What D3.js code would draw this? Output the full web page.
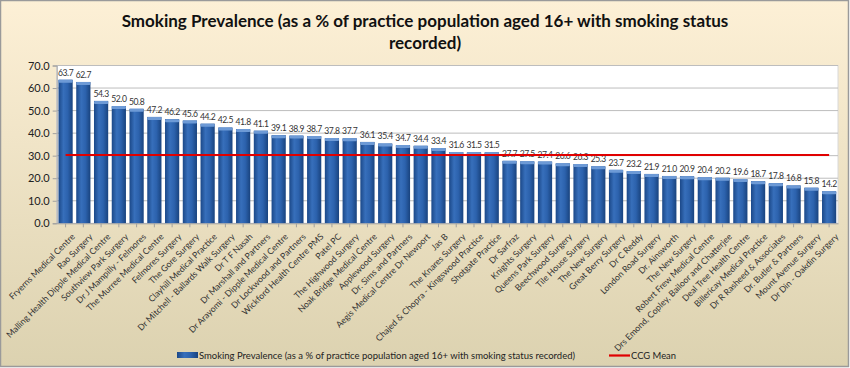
<!DOCTYPE html>
<html><head><meta charset="utf-8">
<script src="https://cdn.jsdelivr.net/npm/d3@7"></script>
<style>
html,body{margin:0;padding:0;background:#fff;}
svg{display:block;font-family:Lato,"Open Sans",sans-serif;}
</style></head>
<body>
<svg id="chart" width="850" height="368"></svg>
<script>
const categories = ["Fryerns Medical Centre","Rao Surgery","Malling Health Dipple Medical Centre","Southview Park Surgery","Dr J Mampilly - Felmores","The Murree Medical Centre","Felmores Surgery","The Gore Surgery","Clayhill Medical Practice","Dr Mitchell - Ballards Walk Surgery","Dr T F Nasah","Dr Marshall and Partners","Dr Arayomi - Dipple Medical Centre","Dr Lockwood and Partners","Wickford Health Centre PMS","Patel PC","The Highwood Surgery","Noak Bridge Medical Centre","Applewood Surgery","Dr. Sims and Partners","Aegis Medical Centre Dr Newport","Jas B","The Knares Surgery","Chajed & Chopra - Kingswood Practice","Shotgate Practice","Dr Sarfraz","Knights Surgery","Queens Park Surgery","Beechwood Surgery","Tile House Surgery","The New Surgery","Great Berry Surgery","Dr C Reddy","London Road Surgery","Dr. Ainsworth","The New Surgery","Robert Frew Medical Centre","Drs Emond, Copley, Bailoor and Chatterjee","Deal Tree Health Centre","Billericay Medical Practice","Dr R Rasheed & Associates","Dr. Butler & Partners","Mount Avenue Surgery","Dr Din - Oakdin Surgery"];
const prevalence = [63.7,62.7,54.3,52.0,50.8,47.2,46.2,45.6,44.2,42.5,41.8,41.1,39.1,38.9,38.7,37.8,37.7,36.1,35.4,34.7,34.4,33.4,31.6,31.5,31.5,27.7,27.5,27.4,26.6,26.3,25.3,23.7,23.2,21.9,21.0,20.9,20.4,20.2,19.6,18.7,17.8,16.8,15.8,14.2];
const ccgMean = 30.3;
const yTicks = [0,10,20,30,40,50,60,70];
const titleLines = ["Smoking Prevalence (as a % of practice population aged 16+ with smoking status","recorded)"];
const seriesName = "Smoking Prevalence (as a % of practice population aged 16+ with smoking status recorded)";
const meanName = "CCG Mean";

const svg = d3.select("#chart");
const W = 850, H = 368;
const defs = svg.append("defs");
const bg = defs.append("linearGradient").attr("id","bg").attr("x1",0).attr("y1",0).attr("x2",0).attr("y2",1);
bg.append("stop").attr("offset","0%").attr("stop-color","#fdf0d6");
bg.append("stop").attr("offset","100%").attr("stop-color","#dcd2b0");
const bar = defs.append("linearGradient").attr("id","bar").attr("x1",0).attr("y1",0).attr("x2",1).attr("y2",0);
bar.append("stop").attr("offset","0%").attr("stop-color","#1b4888");
bar.append("stop").attr("offset","35%").attr("stop-color","#376fbb");
bar.append("stop").attr("offset","65%").attr("stop-color","#2c62ad");
bar.append("stop").attr("offset","100%").attr("stop-color","#19437e");

svg.append("rect").attr("x",0.5).attr("y",0.5).attr("width",W-2).attr("height",H-2)
  .attr("fill","url(#bg)").attr("stroke","#9a9a9a").attr("stroke-width",1.5);

const x = d3.scaleBand().domain(d3.range(categories.length)).range([56.7,838]).paddingInner(0.2).paddingOuter(0.1);
const y = d3.scaleLinear().domain([0,70]).range([223.3,65.5]);

svg.append("rect").attr("x",56.7).attr("y",65.5).attr("width",838-56.7).attr("height",223.3-65.5)
  .attr("fill","#ffffff").attr("stroke","#d8d8d8");

svg.append("g").selectAll("line").data(yTicks.filter(d=>d>0)).join("line")
  .attr("x1",56.7).attr("x2",838).attr("y1",d=>y(d)).attr("y2",d=>y(d))
  .attr("stroke","#bdbdbd").attr("stroke-width",1);

const yAxis = svg.append("g").attr("transform","translate(56.7,0)")
  .call(d3.axisLeft(y).tickValues(yTicks).tickFormat(d3.format(".1f")).tickSize(4).tickPadding(3));
yAxis.select(".domain").attr("stroke","#a0a0a0");
yAxis.selectAll(".tick line").attr("stroke","#a0a0a0");
yAxis.selectAll("text").attr("font-size",11).attr("fill","#222").attr("font-family","Lato,sans-serif");

const bars = svg.append("g").selectAll("g").data(prevalence).join("g");
bars.append("rect").attr("x",(d,i)=>x(i)).attr("y",d=>y(d)).attr("width",x.bandwidth())
  .attr("height",d=>y(0)-y(d)).attr("fill","url(#bar)");
bars.append("rect").attr("x",(d,i)=>x(i)).attr("y",d=>y(d)).attr("width",x.bandwidth())
  .attr("height",3).attr("fill","#6d9ad6").attr("rx",1);
bars.append("text").attr("x",(d,i)=>x(i)+x.bandwidth()/2).attr("y",d=>y(d)-4)
  .attr("text-anchor","middle").attr("font-size",8.6).attr("letter-spacing",-0.45).attr("fill","#333")
  .text(d=>d3.format(".1f")(d));

const xAxis = svg.append("g").attr("transform","translate(0,223.3)")
  .call(d3.axisBottom(x).tickFormat(i=>categories[i]).tickSize(4).tickSizeOuter(0));
xAxis.select(".domain").attr("stroke","#a0a0a0");
xAxis.selectAll(".tick line").attr("stroke","#a0a0a0");
xAxis.selectAll("text").attr("font-size",8.7).attr("fill","#333").attr("font-family","Lato,sans-serif")
  .attr("text-anchor","end").attr("dx",0).attr("dy",0)
  .attr("transform","translate(5,9) rotate(-45)");

svg.append("line").attr("x1",x(0)+x.bandwidth()/2).attr("x2",x(categories.length-1)+x.bandwidth()/2)
  .attr("y1",y(ccgMean)).attr("y2",y(ccgMean)).attr("stroke","#e00000").attr("stroke-width",2.2);

svg.append("g").selectAll("text").data(titleLines).join("text")
  .attr("x",425).attr("y",(d,i)=>27+i*22).attr("text-anchor","middle")
  .attr("font-size",17).attr("font-weight","bold").attr("fill","#111")
  .text(d=>d);

const lg = svg.append("g");
lg.append("rect").attr("x",177).attr("y",352).attr("width",21).attr("height",6).attr("fill","url(#bar)");
lg.append("text").attr("x",199).attr("y",359).attr("font-size",10).attr("fill","#222")
  .attr("textLength",376).attr("lengthAdjust","spacingAndGlyphs").text(seriesName);
lg.append("line").attr("x1",609).attr("x2",630).attr("y1",355.5).attr("y2",355.5).attr("stroke","#e00000").attr("stroke-width",2.2);
lg.append("text").attr("x",631).attr("y",359).attr("font-size",10).attr("fill","#222")
  .attr("textLength",45).attr("lengthAdjust","spacingAndGlyphs").text(meanName);
</script>
</body></html>
